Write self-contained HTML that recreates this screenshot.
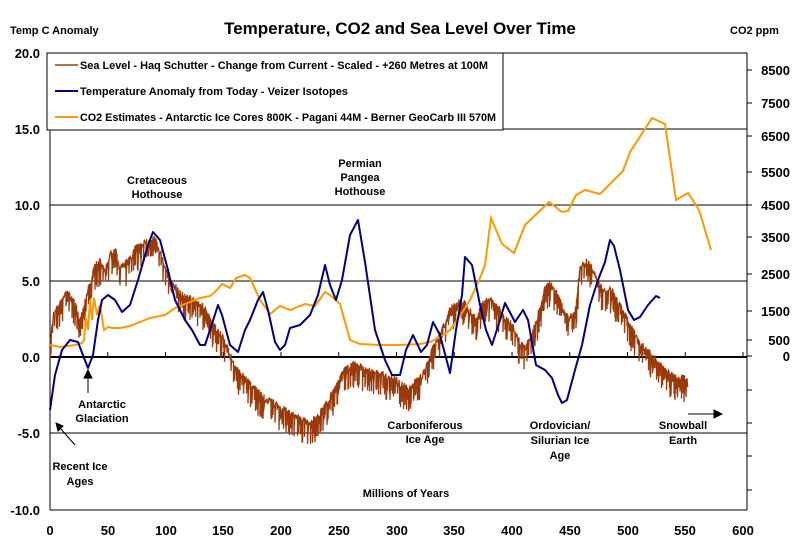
<!DOCTYPE html>
<html><head><meta charset="utf-8"><style>
body{margin:0;background:#fff;}
svg text{font-family:"Liberation Sans",Arial,sans-serif;font-weight:bold;fill:#000;}
</style></head><body>
<svg id="s" width="800" height="547" viewBox="0 0 800 547" xmlns="http://www.w3.org/2000/svg">
<rect width="800" height="547" fill="#fff"/>
<text x="400" y="34" font-size="17" text-anchor="middle">Temperature, CO2 and Sea Level Over Time</text>
<text x="10" y="34" font-size="11">Temp C Anomaly</text>
<text x="730" y="34" font-size="11">CO2 ppm</text>
<g stroke="#000" stroke-width="1">
<line x1="50" y1="53" x2="747" y2="53"/>
<line x1="50" y1="129" x2="747" y2="129"/>
<line x1="50" y1="205" x2="747" y2="205"/>
<line x1="50" y1="281" x2="747" y2="281"/>
<line x1="50" y1="433" x2="747" y2="433"/>
<line x1="50" y1="510" x2="747" y2="510"/>
<line x1="50" y1="53" x2="50" y2="510"/>
<line x1="747" y1="53" x2="747" y2="510"/>
<line x1="50" y1="357" x2="747" y2="357" stroke-width="2"/>
</g>
<g id="xt" stroke="#000"></g>
<g id="rt" stroke="#000"></g>
<g font-size="13" text-anchor="end">
<text x="40" y="58">20.0</text><text x="40" y="134">15.0</text><text x="40" y="210">10.0</text>
<text x="40" y="286">5.0</text><text x="40" y="362">0.0</text><text x="40" y="438">-5.0</text><text x="40" y="515">-10.0</text>
</g>
<g font-size="13" text-anchor="middle">
<text x="50" y="535">0</text><text x="108" y="535">50</text><text x="166" y="535">100</text><text x="223" y="535">150</text>
<text x="281" y="535">200</text><text x="339" y="535">250</text><text x="397" y="535">300</text><text x="454" y="535">350</text>
<text x="512" y="535">400</text><text x="570" y="535">450</text><text x="628" y="535">500</text><text x="685" y="535">550</text><text x="743" y="535">600</text>
</g>
<g font-size="13" text-anchor="end">
<text x="790" y="75">8500</text><text x="790" y="108">7500</text><text x="790" y="141">6500</text><text x="790" y="177">5500</text>
<text x="790" y="210">4500</text><text x="790" y="242">3500</text><text x="790" y="279">2500</text><text x="790" y="316">1500</text>
<text x="790" y="345">500</text><text x="790" y="361">0</text>
</g>
<g id="sea"></g>
<polyline fill="none" stroke="#ff9900" stroke-width="2" points="50,345 60,347 75,345 82,343 84,340 86,318 88,330 90,300 92,320 94,298 97,315 100,305 104,330 108,327 112,328 120,328 130,326 150,318 165,315 175,308 190,302 200,298 210,296 215,292 222,284 230,288 236,278 245,275 250,278 260,300 270,314 280,306 290,310 305,304 315,306 325,292 330,295 340,304 350,340 360,344 380,345 400,345 420,344 430,342 440,337 450,330 460,316 470,300 480,278 485,265 491,218 502,244 514,253 525,225 549,202 562,212 568,211 576,195 585,190 600,194 608,186 623,171 630,152 652,118 665,124 676,200 688,193 699,210 711,250"/>
<polyline fill="none" stroke="#000080" stroke-width="2" stroke-linejoin="round" points="50,410 55,375 62,350 70,340 78,342 84,358 88,368 93,355 98,320 102,300 108,295 115,300 122,312 130,305 138,280 148,245 153,232 160,240 168,270 175,300 185,320 192,330 200,345 205,345 210,330 218,305 222,315 230,345 238,352 245,330 250,320 258,300 263,292 268,310 275,342 280,350 285,345 290,328 300,325 310,315 318,295 325,265 330,285 336,300 342,280 350,235 358,220 365,262 375,330 385,360 392,375 400,375 406,350 413,335 421,352 427,345 433,322 440,335 450,373 456,330 462,295 465,257 472,265 480,305 486,330 492,345 500,320 505,303 515,322 523,310 528,320 536,365 545,370 552,378 558,395 562,403 567,400 575,370 582,345 590,305 598,280 605,262 610,240 614,246 620,270 628,310 634,320 640,317 648,305 656,296 660,298"/>
<rect x="47" y="53" width="456" height="77" fill="#fff" stroke="#000"/>
<line x1="55" y1="65" x2="78" y2="65" stroke="#b0704a" stroke-width="2"/>
<line x1="55" y1="91" x2="78" y2="91" stroke="#000080" stroke-width="2"/>
<line x1="55" y1="117" x2="78" y2="117" stroke="#ff9900" stroke-width="2"/>
<g font-size="11"><text x="80" y="69" textLength="408" lengthAdjust="spacingAndGlyphs">Sea Level - Haq Schutter - Change from Current - Scaled - +260 Metres at 100M</text>
<text x="80" y="95" textLength="268" lengthAdjust="spacingAndGlyphs">Temperature Anomaly from Today - Veizer Isotopes</text>
<text x="80" y="121" textLength="416" lengthAdjust="spacingAndGlyphs">CO2 Estimates - Antarctic Ice Cores 800K - Pagani 44M - Berner GeoCarb III 570M</text></g>
<g font-size="11" text-anchor="middle">
<text x="157" y="184">Cretaceous</text><text x="157" y="198">Hothouse</text>
<text x="360" y="167">Permian</text><text x="360" y="181">Pangea</text><text x="360" y="195">Hothouse</text>
<text x="102" y="408">Antarctic</text><text x="102" y="422">Glaciation</text>
<text x="80" y="470">Recent Ice</text><text x="80" y="485">Ages</text>
<text x="425" y="429">Carboniferous</text><text x="425" y="443">Ice Age</text>
<text x="560" y="429">Ordovician/</text><text x="560" y="444">Silurian Ice</text><text x="560" y="459">Age</text>
<text x="683" y="429">Snowball</text><text x="683" y="444">Earth</text>
<text x="406" y="497">Millions of Years</text>
</g>
<g stroke="#000" fill="#000">
<line x1="88" y1="393" x2="88" y2="376"/><polygon points="84,378 92,378 88,370"/>
<line x1="75" y1="445" x2="60" y2="428"/><polygon points="56,423 63,426 58,431"/>
<line x1="688" y1="414" x2="716" y2="414"/><polygon points="714,410 714,418 722,414"/>
</g>
</svg>
<script>
var ns="http://www.w3.org/2000/svg";
function L(g,x1,y1,x2,y2,c,w){var l=document.createElementNS(ns,"line");l.setAttribute("x1",x1);l.setAttribute("y1",y1);l.setAttribute("x2",x2);l.setAttribute("y2",y2);if(c)l.setAttribute("stroke",c);if(w)l.setAttribute("stroke-width",w);g.appendChild(l);}
var xt=document.getElementById("xt");
for(var i=0;i<=12;i++){var x=50+i*57.75;L(xt,x,352,x,357);}
var rt=document.getElementById("rt");
[70,103,136,172,205,237,274,311,340,356,390,423,456,490].forEach(function(y){L(rt,747,y,752,y);});
var env=[[50,340],[52,320],[55,305],[60,300],[65,290],[70,292],[75,300],[80,315],[85,298],[90,280],[95,262],[100,258],[105,265],[110,250],[115,245],[120,265],[125,260],[130,255],[135,245],[145,238],[155,235],[165,262],[170,275],[180,290],[190,295],[200,300],[205,305],[212,320],[220,330],[228,345],[235,365],[245,375],[255,385],[265,395],[275,400],[290,410],[300,415],[310,420],[320,410],[335,385],[345,365],[355,360],[365,365],[375,368],[385,372],[395,375],[400,380],[410,385],[418,375],[425,368],[430,350],[440,330],[450,305],[458,300],[465,300],[475,315],[483,300],[490,296],[497,302],[505,315],[512,320],[520,340],[525,345],[532,330],[540,305],[545,285],[550,280],[557,290],[563,305],[568,315],[575,310],[580,265],[588,257],[596,275],[605,290],[610,285],[616,295],[622,305],[630,322],[640,340],[650,350],[660,360],[670,372],[685,375],[688,380]];
function ev(x){for(var i=0;i<env.length-1;i++){if(x>=env[i][0]&&x<=env[i+1][0]){var t=(x-env[i][0])/(env[i+1][0]-env[i][0]);return env[i][1]+t*(env[i+1][1]-env[i][1]);}}return 380;}
var seed=7;function r(){seed=(seed*16807)%2147483647;return seed/2147483647;}
var pts=[];for(var x=50;x<=688;x+=0.5){var b=ev(x);pts.push(x.toFixed(1)+","+(b+r()*8).toFixed(1));if(r()<0.5)pts.push(x.toFixed(1)+","+(b+8+r()*20).toFixed(1));}
var p=document.createElementNS(ns,"polyline");p.setAttribute("points",pts.join(" "));p.setAttribute("fill","none");p.setAttribute("stroke","#9a3a0a");p.setAttribute("stroke-width","1.3");
document.getElementById("sea").appendChild(p);
</script>
</body></html>
